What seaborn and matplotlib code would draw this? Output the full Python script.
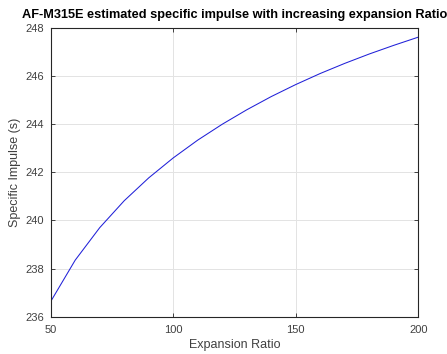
import matplotlib
matplotlib.use("Agg")
import matplotlib.pyplot as plt
import seaborn as sns
import pandas as pd

expansion_ratio = [50, 60, 70, 80, 90, 100, 110, 120, 130, 140, 150, 160, 170, 180, 190, 200]
specific_impulse = [236.63, 238.35, 239.70, 240.82, 241.77, 242.60, 243.34, 244.00,
                    244.60, 245.15, 245.65, 246.11, 246.53, 246.92, 247.28, 247.62]
x_ticks = [50, 100, 150, 200]
y_ticks = [236, 238, 240, 242, 244, 246, 248]

sns.set_theme(style="whitegrid")
plt.rcParams['font.family'] = ['Liberation Sans', 'DejaVu Sans']

df = pd.DataFrame({"Expansion Ratio": expansion_ratio, "Specific Impulse (s)": specific_impulse})

fig = plt.figure(figsize=(4.47, 3.54), dpi=100)
ax = fig.add_axes([0.1134, 0.1054, 0.8224, 0.8155])
sns.lineplot(data=df, x="Expansion Ratio", y="Specific Impulse (s)", ax=ax,
             color="#2020d8", linewidth=0.75)

ax.set_xlim(50, 200)
ax.set_ylim(236, 248)
ax.set_xticks(x_ticks)
ax.set_yticks(y_ticks)
ax.set_xticklabels([str(t) for t in x_ticks])
ax.set_yticklabels([str(t) for t in y_ticks])
ax.grid(True, color="#e3e3e3", linewidth=0.7)
for s in ax.spines.values():
    s.set_color("#262626")
    s.set_linewidth(0.8)
    s.set_visible(True)
ax.tick_params(axis="both", direction="in", length=3, width=0.6, color="#262626",
               labelsize=8, labelcolor="#404040",
               top=True, right=True, left=True, bottom=True,
               labeltop=False, labelright=False)
ax.tick_params(axis="x", pad=6)
ax.tick_params(axis="y", pad=5)
ax.set_xlabel("Expansion Ratio", fontsize=9, color="#404040", labelpad=3)
ax.set_ylabel("Specific Impulse (s)", fontsize=9, color="#404040", labelpad=3)
ax.set_title("AF-M315E estimated specific impulse with increasing expansion Ratio",
             fontsize=9.2, fontweight="bold", color="black", pad=7)
ax.set_facecolor("white")
fig.patch.set_facecolor("white")
fig.savefig("out.png", dpi=100)
